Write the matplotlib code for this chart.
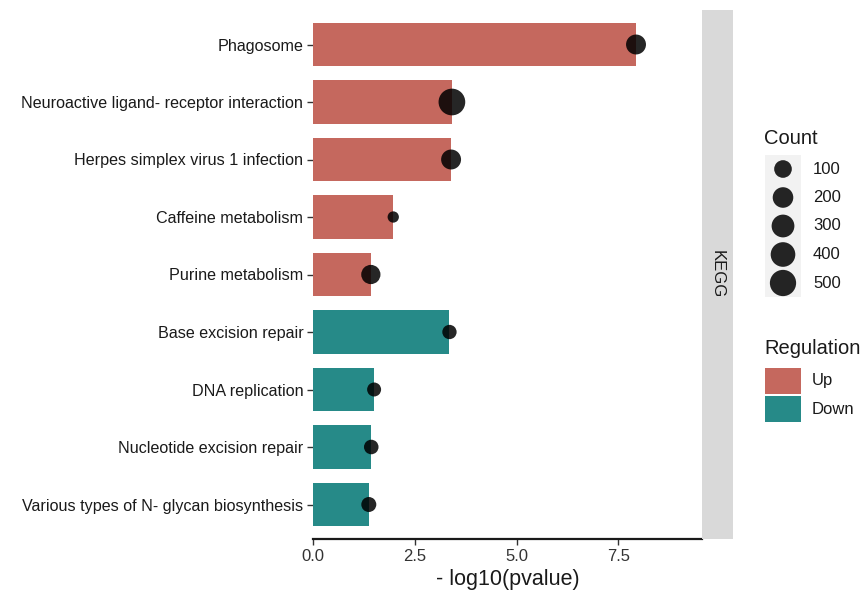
import numpy as np
import matplotlib.pyplot as plt
from matplotlib.patches import Rectangle

## Data
pathways = ['Phagosome',
            'Neuroactive ligand- receptor interaction',
            'Herpes simplex virus 1 infection',
            'Caffeine metabolism',
            'Purine metabolism',
            'Base excision repair',
            'DNA replication',
            'Nucleotide excision repair',
            'Various types of N- glycan biosynthesis']
logp       = [7.93, 3.41, 3.39, 1.97, 1.42, 3.35, 1.50, 1.43, 1.37]
counts     = [175, 530, 175, 12, 150, 32, 28, 35, 42]
regulation = ['Up', 'Up', 'Up', 'Up', 'Up', 'Down', 'Down', 'Down', 'Down']
size_breaks = [100, 200, 300, 400, 500]
xticks      = [0.0, 2.5, 5.0, 7.5]

red  = '#C5685E'
teal = '#268A88'
reg_colors = {'Up': red, 'Down': teal}

plt.rcParams['font.family'] = ['Liberation Sans', 'DejaVu Sans']

W, H, dpi = 864, 594, 100
fig = plt.figure(figsize=(W/dpi, H/dpi), dpi=dpi)

## size scale like ggplot area_pal: diameter in px
cmin, cmax = min(counts), max(counts)
dmin, dmax = 11.3, 26.7
def msize(c):
    r = np.clip((np.asarray(c, float) - cmin) / (cmax - cmin), 0, 1)
    d = dmin + (dmax - dmin) * np.sqrt(r)
    return (d * 72.0 / dpi) ** 2

## main panel
px = lambda x0, y0, x1, y1: [x0/W, 1 - y1/H, (x1-x0)/W, (y1-y0)/H]
ax = fig.add_axes(px(313, 10, 702, 539))
n = len(pathways)
ypos = np.arange(n)
cols = [reg_colors[r] for r in regulation]
ax.barh(ypos, logp, height=0.75, color=cols, zorder=2)
ax.scatter(logp, ypos, s=msize(counts), color='black', alpha=0.85, linewidths=0, zorder=3)
ax.set_ylim(n - 0.4, -0.6)
ax.set_xlim(0, 9.55)
ax.set_yticks(ypos)
ax.set_yticklabels(pathways, fontsize=11.6, color='#1a1a1a')
ax.set_xticks(xticks)
ax.set_xticklabels(['%.1f' % t for t in xticks], fontsize=12, color='#333333')
ax.tick_params(axis='both', length=4, width=1, color='#333333', pad=3)
for s in ['top', 'right', 'left']:
    ax.spines[s].set_visible(False)
ax.spines['bottom'].set_linewidth(1.6)
ax.spines['bottom'].set_color('#1a1a1a')
ax.set_xlabel('- log10(pvalue)', fontsize=15.5, color='#1a1a1a', labelpad=4)

## facet strip
sax = fig.add_axes(px(702, 10, 733, 539))
sax.set_facecolor('#D9D9D9')
sax.set_xticks([]); sax.set_yticks([])
for s in sax.spines.values():
    s.set_visible(False)
sax.text(0.5, 0.5, 'KEGG', rotation=-90, ha='center', va='center',
         fontsize=12, color='#1a1a1a', transform=sax.transAxes)

## legends, drawn in pixel coordinates
lax = fig.add_axes([0, 0, 1, 1], zorder=5)
lax.set_xlim(0, W); lax.set_ylim(H, 0)
lax.axis('off')
lax.patch.set_alpha(0)

lax.text(764, 138, 'Count', fontsize=14.5, va='center', ha='left', color='#1a1a1a')
lax.add_patch(Rectangle((765, 155), 36, 142, facecolor='#F2F2F2', edgecolor='none'))
key_y = [169, 197.5, 226, 254.5, 283]
lax.scatter([783]*len(size_breaks), key_y, s=msize(size_breaks), color='black',
            alpha=0.85, linewidths=0)
for b, yy in zip(size_breaks, key_y):
    lax.text(813, yy, str(b), fontsize=12, va='center', ha='left', color='#1a1a1a')

lax.text(764, 348, 'Regulation', fontsize=14.5, va='center', ha='left', color='#1a1a1a')
for i, lab in enumerate(['Up', 'Down']):
    y0 = 368 + i*28
    lax.add_patch(Rectangle((765, y0), 36, 26, facecolor=reg_colors[lab], edgecolor='none'))
    lax.text(812, y0 + 13, lab, fontsize=12, va='center', ha='left', color='#1a1a1a')

plt.savefig('out.png', dpi=dpi)
plt.close(fig)
